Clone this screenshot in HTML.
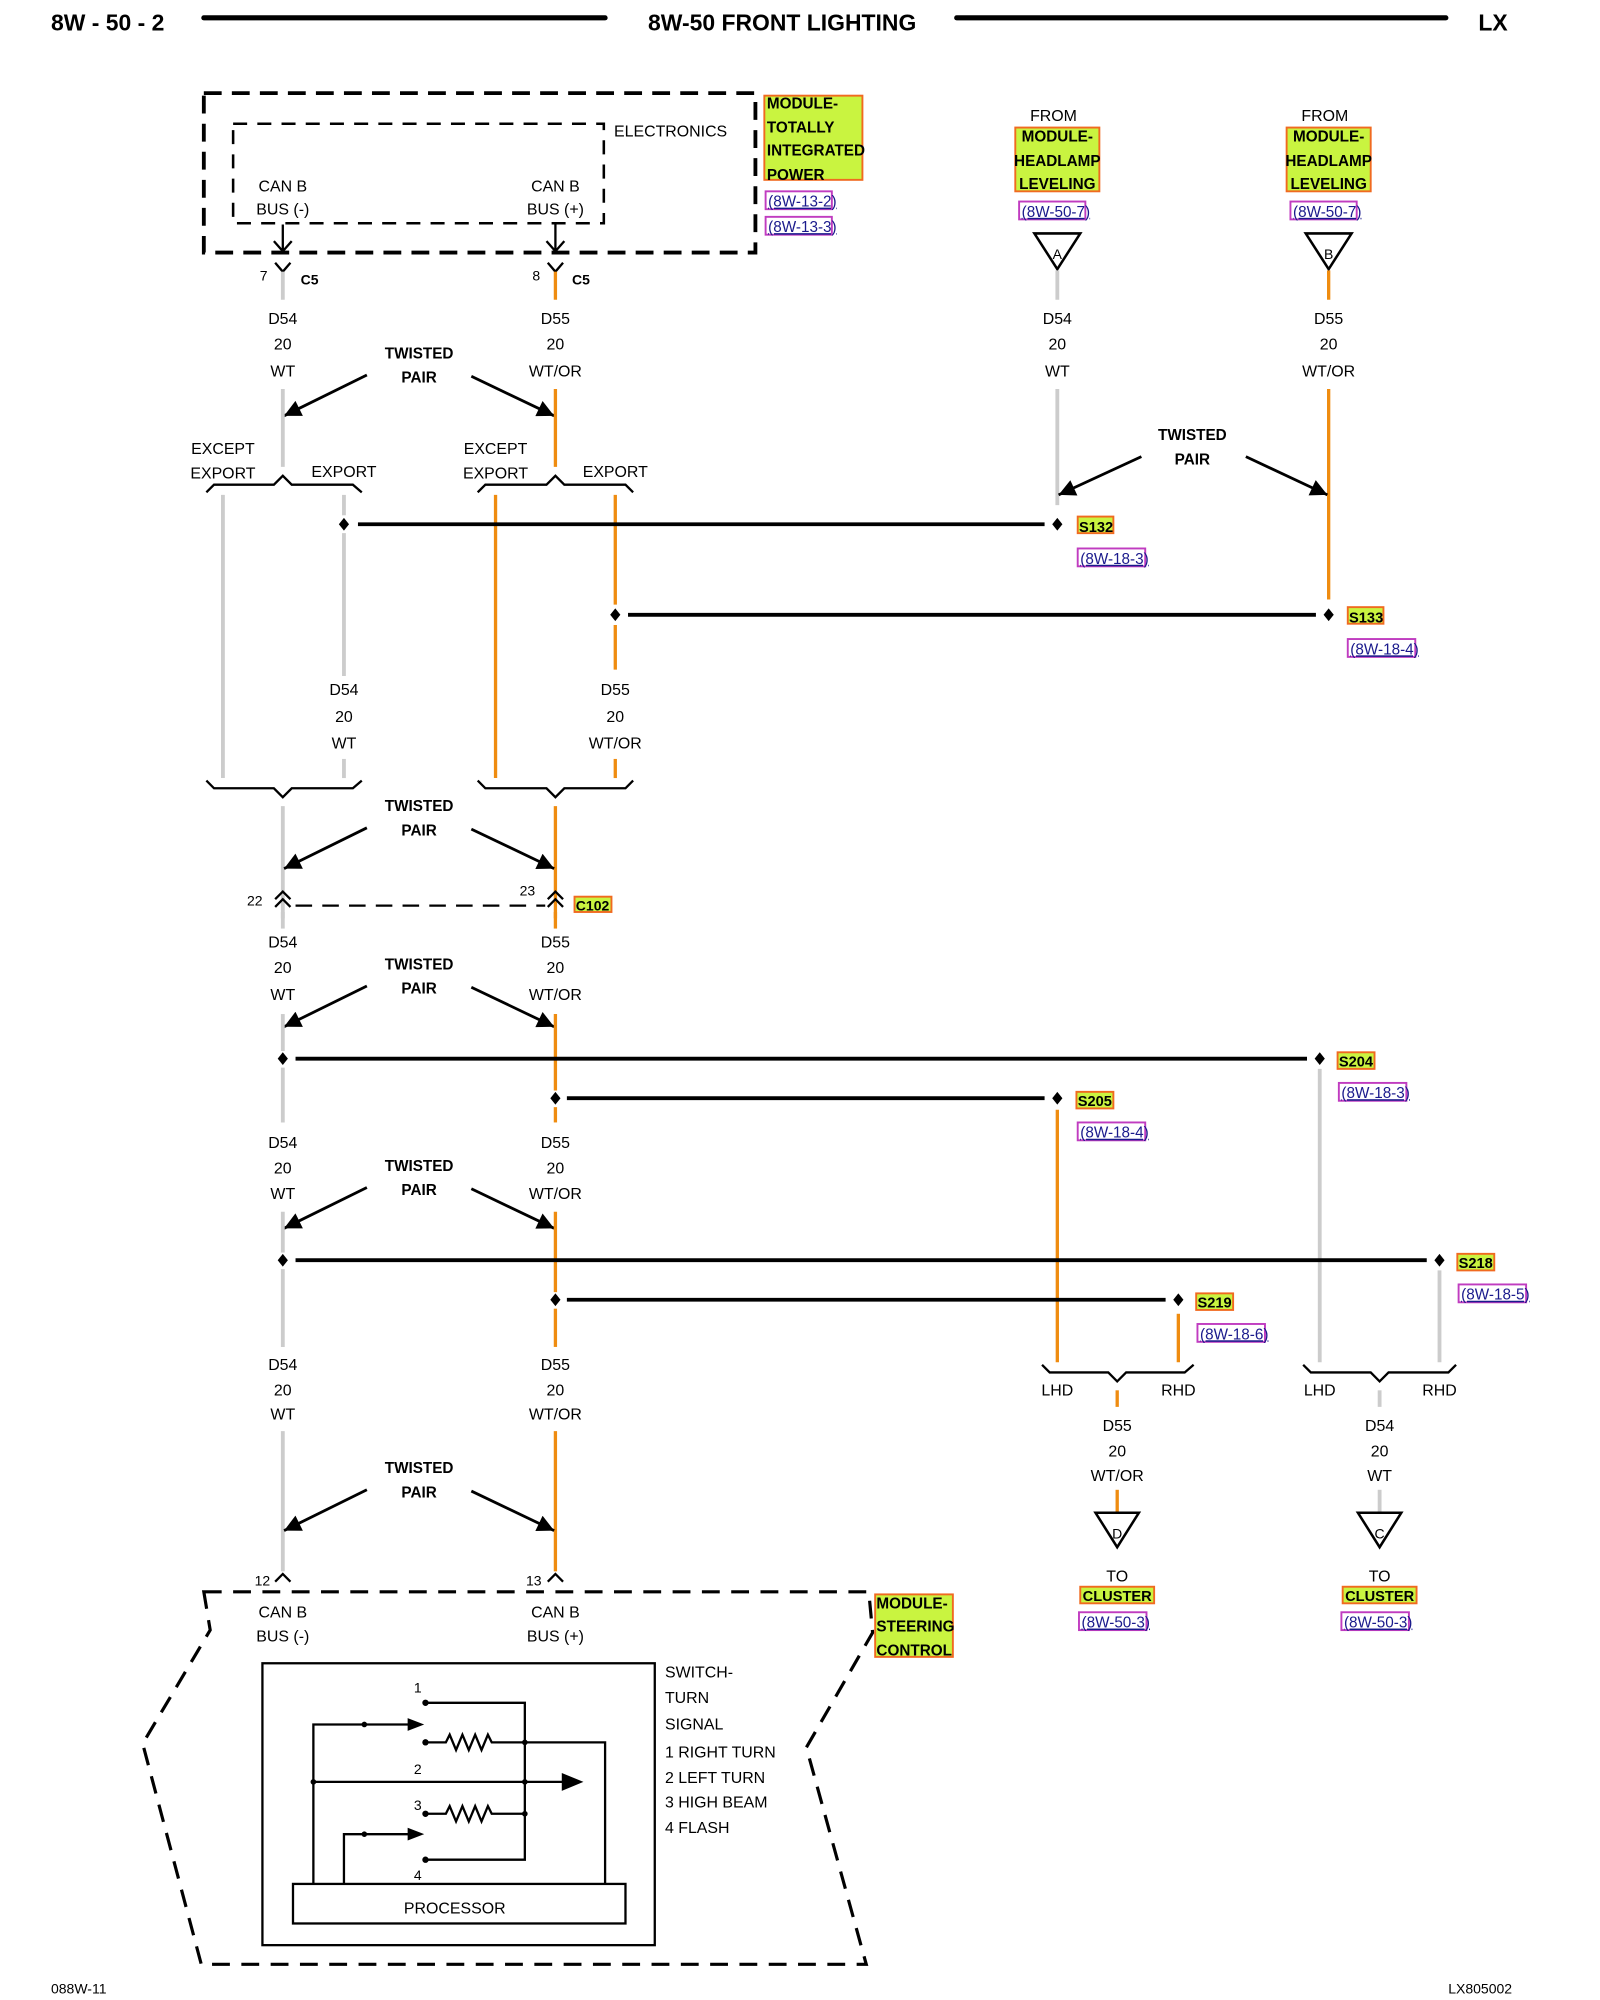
<!DOCTYPE html>
<html><head><meta charset="utf-8"><style>
html,body{margin:0;padding:0;background:#fff;}
svg{display:block;}
text{font-family:"Liberation Sans",Arial,sans-serif;font-size:12.5px;fill:#000;}
.m{text-anchor:middle;}
.b{font-weight:bold;}
.ref{fill:#1a1a8c;font-size:12px;text-decoration:underline;}
.g{stroke:#cccccc;stroke-width:3;fill:none;}
.o{stroke:#ef8c10;stroke-width:2.6;fill:none;}
.k{stroke:#000;stroke-width:3;fill:none;}
.k2{stroke:#000;stroke-width:1.8;fill:none;}
.lab{fill:#c9f440;stroke:#f06a20;stroke-width:1.5;}
.rb{fill:#fff;stroke:#c03cc0;stroke-width:1.5;}
</style></head><body>
<svg width="1600" height="2000" viewBox="0 0 1256 1568" preserveAspectRatio="none" xmlns="http://www.w3.org/2000/svg">
<defs>
<marker id="ah" viewBox="0 0 10 10" refX="10" refY="5" markerWidth="7" markerHeight="6" orient="auto"><path d="M0,0 L10,5 L0,10 z" fill="#000"/></marker>
</defs>

<!-- header -->
<text x="40" y="24" class="b" style="font-size:18px">8W - 50 - 2</text>
<line x1="160" y1="14" x2="475" y2="14" stroke="#000" stroke-width="4" stroke-linecap="round"/>
<text x="614" y="24" class="b m" style="font-size:18px">8W-50 FRONT LIGHTING</text>
<line x1="751" y1="14" x2="1135" y2="14" stroke="#000" stroke-width="4" stroke-linecap="round"/>
<text x="1172" y="24" class="b m" style="font-size:18px">LX</text>

<!-- TIPM module -->
<rect x="160" y="73" width="433" height="125" fill="none" stroke="#000" stroke-width="3" stroke-dasharray="14,8"/>
<rect x="183" y="97" width="291" height="78" fill="none" stroke="#000" stroke-width="2" stroke-dasharray="11,8"/>
<text x="482" y="107">ELECTRONICS</text>
<text x="222" y="150" class="m">CAN B</text><text x="222" y="168" class="m">BUS (-)</text>
<text x="436" y="150" class="m">CAN B</text><text x="436" y="168" class="m">BUS (+)</text>
<path d="M222,176 V197 M215,189 L222,197 L229,189 M436,176 V197 M429,189 L436,197 L443,189" class="k2"/>
<rect x="600" y="75" width="77" height="66" class="lab"/>
<text x="602" y="85" class="b" style="font-size:12px">MODULE-</text>
<text x="602" y="104" class="b" style="font-size:12px">TOTALLY</text>
<text x="602" y="122" class="b" style="font-size:12px">INTEGRATED</text>
<text x="602" y="141" class="b" style="font-size:12px">POWER</text>
<rect x="601" y="150" width="52" height="14" class="rb"/><text x="603" y="162" class="ref">(8W-13-2)</text>
<rect x="601" y="170" width="52" height="14" class="rb"/><text x="603" y="182" class="ref">(8W-13-3)</text>

<!-- C5 -->
<path d="M216,206 L222,213 L228,206 M430,206 L436,213 L442,206" class="k2"/>
<text x="207" y="220" class="m" style="font-size:11px">7</text><text x="236" y="223" class="b" style="font-size:11px">C5</text>
<text x="421" y="220" class="m" style="font-size:11px">8</text><text x="449" y="223" class="b" style="font-size:11px">C5</text>
<line x1="222" y1="213" x2="222" y2="235" class="g"/>
<line x1="436" y1="213" x2="436" y2="235" class="o"/>
<text x="222" y="254" class="m">D54</text><text x="222" y="274" class="m">20</text><text x="222" y="295" class="m">WT</text>
<text x="436" y="254" class="m">D55</text><text x="436" y="274" class="m">20</text><text x="436" y="295" class="m">WT/OR</text>

<g id="tp">
<text x="329" y="281" class="m b" style="font-size:12px">TWISTED</text>
<text x="329" y="300" class="m b" style="font-size:12px">PAIR</text>
<line x1="288" y1="294" x2="223" y2="326" stroke="#000" stroke-width="2.2" marker-end="url(#ah)"/>
<line x1="370" y1="295" x2="435" y2="326" stroke="#000" stroke-width="2.2" marker-end="url(#ah)"/>
</g>
<line x1="222" y1="305" x2="222" y2="366" class="g"/>
<line x1="436" y1="305" x2="436" y2="366" class="o"/>

<text x="175" y="356" class="m">EXCEPT</text><text x="175" y="375" class="m">EXPORT</text><text x="270" y="374" class="m">EXPORT</text>
<text x="389" y="356" class="m">EXCEPT</text><text x="389" y="375" class="m">EXPORT</text><text x="483" y="374" class="m">EXPORT</text>
<path d="M162,386 L168,380 H215 L222,373 L229,380 H277 L284,386" class="k2"/>
<path d="M375,386 L381,380 H429 L436,373 L443,380 H491 L497,386" class="k2"/>
<line x1="175" y1="388" x2="175" y2="610" class="g"/>
<line x1="270" y1="388" x2="270" y2="404" class="g"/>
<line x1="270" y1="418" x2="270" y2="530" class="g"/>
<line x1="270" y1="595" x2="270" y2="610" class="g"/>
<line x1="389" y1="388" x2="389" y2="610" class="o"/>
<line x1="483" y1="388" x2="483" y2="474" class="o"/>
<line x1="483" y1="490" x2="483" y2="525" class="o"/>
<line x1="483" y1="595" x2="483" y2="610" class="o"/>
<text x="270" y="545" class="m">D54</text><text x="270" y="566" class="m">20</text><text x="270" y="587" class="m">WT</text>
<text x="483" y="545" class="m">D55</text><text x="483" y="566" class="m">20</text><text x="483" y="587" class="m">WT/OR</text>

<line x1="281" y1="411" x2="820" y2="411" class="k"/>
<path d="M270,406 L274,411 L270,416 L266,411 Z M830,406 L834,411 L830,416 L826,411 Z" fill="#000"/>
<rect x="846" y="405" width="28" height="13" class="lab"/><text x="847" y="417" class="b" style="font-size:11.5px">S132</text>
<rect x="846" y="430" width="53" height="14" class="rb"/><text x="848" y="442" class="ref">(8W-18-3)</text>
<line x1="493" y1="482" x2="1033" y2="482" class="k"/>
<path d="M483,477 L487,482 L483,487 L479,482 Z M1043,477 L1047,482 L1043,487 L1039,482 Z" fill="#000"/>
<rect x="1058" y="476" width="28" height="13" class="lab"/><text x="1059" y="488" class="b" style="font-size:11.5px">S133</text>
<rect x="1058" y="501" width="53" height="14" class="rb"/><text x="1060" y="513" class="ref">(8W-18-4)</text>

<text x="827" y="95" class="m">FROM</text>
<rect x="797" y="100" width="66" height="50" class="lab"/>
<text x="830" y="111" class="m b" style="font-size:12px">MODULE-</text>
<text x="830" y="130" class="m b" style="font-size:12px">HEADLAMP</text>
<text x="830" y="148" class="m b" style="font-size:12px">LEVELING</text>
<rect x="800" y="158" width="52" height="14" class="rb"/><text x="802" y="170" class="ref">(8W-50-7)</text>
<path d="M812,183 H848 L830,211 Z" fill="#fff" stroke="#000" stroke-width="2"/><text x="830" y="203" class="m" style="font-size:11px">A</text>
<text x="1040" y="95" class="m">FROM</text>
<rect x="1010" y="100" width="66" height="50" class="lab"/>
<text x="1043" y="111" class="m b" style="font-size:12px">MODULE-</text>
<text x="1043" y="130" class="m b" style="font-size:12px">HEADLAMP</text>
<text x="1043" y="148" class="m b" style="font-size:12px">LEVELING</text>
<rect x="1013" y="158" width="52" height="14" class="rb"/><text x="1015" y="170" class="ref">(8W-50-7)</text>
<path d="M1025,183 H1061 L1043,211 Z" fill="#fff" stroke="#000" stroke-width="2"/><text x="1043" y="203" class="m" style="font-size:11px">B</text>
<line x1="830" y1="212" x2="830" y2="235" class="g"/>
<line x1="1043" y1="212" x2="1043" y2="235" class="o"/>
<text x="830" y="254" class="m">D54</text><text x="830" y="274" class="m">20</text><text x="830" y="295" class="m">WT</text>
<text x="1043" y="254" class="m">D55</text><text x="1043" y="274" class="m">20</text><text x="1043" y="295" class="m">WT/OR</text>
<line x1="830" y1="305" x2="830" y2="396" class="g"/>
<line x1="1043" y1="305" x2="1043" y2="470" class="o"/>
<text x="936" y="345" class="m b" style="font-size:12px">TWISTED</text>
<text x="936" y="364" class="m b" style="font-size:12px">PAIR</text>
<line x1="896" y1="358" x2="831" y2="388" stroke="#000" stroke-width="2.2" marker-end="url(#ah)"/>
<line x1="978" y1="358" x2="1042" y2="388" stroke="#000" stroke-width="2.2" marker-end="url(#ah)"/>

<path d="M162,612 L168,618 H215 L222,625 L229,618 H277 L284,612" class="k2"/>
<path d="M375,612 L381,618 H429 L436,625 L443,618 H491 L497,612" class="k2"/>
<line x1="222" y1="632" x2="222" y2="720" class="g"/>
<line x1="436" y1="632" x2="436" y2="720" class="o"/>
<use href="#tp" transform="translate(0,355)"/>

<path d="M216,705 L222,699 L228,705 M216,711 L222,705 L228,711 M430,705 L436,699 L442,705 M430,711 L436,705 L442,711" class="k2"/>
<line x1="232" y1="710" x2="428" y2="710" stroke="#000" stroke-width="1.8" stroke-dasharray="13,8"/>
<text x="200" y="710" class="m" style="font-size:11px">22</text>
<text x="414" y="702" class="m" style="font-size:11px">23</text>
<rect x="451" y="703" width="29" height="12" class="lab"/><text x="452" y="714" class="b" style="font-size:11px">C102</text>
<line x1="222" y1="715" x2="222" y2="728" class="g"/>
<line x1="436" y1="715" x2="436" y2="728" class="o"/>
<text x="222" y="743" class="m">D54</text><text x="222" y="763" class="m">20</text><text x="222" y="784" class="m">WT</text>
<text x="436" y="743" class="m">D55</text><text x="436" y="763" class="m">20</text><text x="436" y="784" class="m">WT/OR</text>
<use href="#tp" transform="translate(0,479)"/>
<line x1="222" y1="795" x2="222" y2="824" class="g"/>
<line x1="222" y1="837" x2="222" y2="880" class="g"/>
<line x1="436" y1="795" x2="436" y2="855" class="o"/>
<line x1="436" y1="868" x2="436" y2="880" class="o"/>

<line x1="232" y1="830" x2="1026" y2="830" class="k"/>
<path d="M222,825 L226,830 L222,835 L218,830 Z M1036,825 L1040,830 L1036,835 L1032,830 Z" fill="#000"/>
<rect x="1050" y="825" width="29" height="13" class="lab"/><text x="1051" y="836" class="b" style="font-size:11.5px">S204</text>
<rect x="1051" y="849" width="53" height="14" class="rb"/><text x="1053" y="861" class="ref">(8W-18-3)</text>
<line x1="1036" y1="838" x2="1036" y2="1068" class="g"/>
<line x1="445" y1="861" x2="820" y2="861" class="k"/>
<path d="M436,856 L440,861 L436,866 L432,861 Z M830,856 L834,861 L830,866 L826,861 Z" fill="#000"/>
<rect x="845" y="856" width="29" height="13" class="lab"/><text x="846" y="867" class="b" style="font-size:11.5px">S205</text>
<rect x="846" y="880" width="53" height="14" class="rb"/><text x="848" y="892" class="ref">(8W-18-4)</text>
<line x1="830" y1="870" x2="830" y2="1068" class="o"/>

<text x="222" y="900" class="m">D54</text><text x="222" y="920" class="m">20</text><text x="222" y="940" class="m">WT</text>
<text x="436" y="900" class="m">D55</text><text x="436" y="920" class="m">20</text><text x="436" y="940" class="m">WT/OR</text>
<use href="#tp" transform="translate(0,637)"/>
<line x1="222" y1="950" x2="222" y2="982" class="g"/>
<line x1="222" y1="995" x2="222" y2="1056" class="g"/>
<line x1="436" y1="950" x2="436" y2="1013" class="o"/>
<line x1="436" y1="1026" x2="436" y2="1056" class="o"/>

<line x1="232" y1="988" x2="1120" y2="988" class="k"/>
<path d="M222,983 L226,988 L222,993 L218,988 Z M1130,983 L1134,988 L1130,993 L1126,988 Z" fill="#000"/>
<rect x="1144" y="983" width="29" height="13" class="lab"/><text x="1145" y="994" class="b" style="font-size:11.5px">S218</text>
<rect x="1145" y="1007" width="53" height="14" class="rb"/><text x="1147" y="1019" class="ref">(8W-18-5)</text>
<line x1="1130" y1="996" x2="1130" y2="1068" class="g"/>
<line x1="445" y1="1019" x2="915" y2="1019" class="k"/>
<path d="M436,1014 L440,1019 L436,1024 L432,1019 Z M925,1014 L929,1019 L925,1024 L921,1019 Z" fill="#000"/>
<rect x="939" y="1014" width="29" height="13" class="lab"/><text x="940" y="1025" class="b" style="font-size:11.5px">S219</text>
<rect x="940" y="1038" width="53" height="14" class="rb"/><text x="942" y="1050" class="ref">(8W-18-6)</text>
<line x1="925" y1="1030" x2="925" y2="1068" class="o"/>

<path d="M818,1070 L824,1076 H870 L877,1083 L884,1076 H930 L937,1070" class="k2"/>
<path d="M1023,1070 L1029,1076 H1076 L1083,1083 L1090,1076 H1137 L1143,1070" class="k2"/>
<text x="830" y="1094" class="m">LHD</text><text x="925" y="1094" class="m">RHD</text>
<text x="1036" y="1094" class="m">LHD</text><text x="1130" y="1094" class="m">RHD</text>
<line x1="877" y1="1090" x2="877" y2="1103" class="o"/>
<line x1="1083" y1="1090" x2="1083" y2="1103" class="g"/>
<text x="877" y="1122" class="m">D55</text><text x="877" y="1142" class="m">20</text><text x="877" y="1161" class="m">WT/OR</text>
<text x="1083" y="1122" class="m">D54</text><text x="1083" y="1142" class="m">20</text><text x="1083" y="1161" class="m">WT</text>
<line x1="877" y1="1168" x2="877" y2="1186" class="o"/>
<line x1="1083" y1="1168" x2="1083" y2="1186" class="g"/>
<path d="M860,1186 H894 L877,1213 Z" fill="#fff" stroke="#000" stroke-width="2"/><text x="877" y="1206" class="m" style="font-size:11px">D</text>
<path d="M1066,1186 H1100 L1083,1213 Z" fill="#fff" stroke="#000" stroke-width="2"/><text x="1083" y="1206" class="m" style="font-size:11px">C</text>
<text x="877" y="1240" class="m">TO</text><text x="1083" y="1240" class="m">TO</text>
<rect x="848" y="1244" width="58" height="13" class="lab"/><text x="877" y="1255" class="m b" style="font-size:11.5px">CLUSTER</text>
<rect x="1054" y="1244" width="58" height="13" class="lab"/><text x="1083" y="1255" class="m b" style="font-size:11.5px">CLUSTER</text>
<rect x="847" y="1264" width="53" height="14" class="rb"/><text x="849" y="1276" class="ref">(8W-50-3)</text>
<rect x="1053" y="1264" width="53" height="14" class="rb"/><text x="1055" y="1276" class="ref">(8W-50-3)</text>

<text x="222" y="1074" class="m">D54</text><text x="222" y="1094" class="m">20</text><text x="222" y="1113" class="m">WT</text>
<text x="436" y="1074" class="m">D55</text><text x="436" y="1094" class="m">20</text><text x="436" y="1113" class="m">WT/OR</text>
<line x1="222" y1="1122" x2="222" y2="1232" class="g"/>
<line x1="436" y1="1122" x2="436" y2="1232" class="o"/>
<use href="#tp" transform="translate(0,874)"/>
<path d="M216,1240 L222,1234 L228,1240 M430,1240 L436,1234 L442,1240" class="k2"/>
<text x="206" y="1243" class="m" style="font-size:11px">12</text>
<text x="419" y="1243" class="m" style="font-size:11px">13</text>

<path d="M160,1248 H682 L685,1280 L633,1370 L680,1540 H158 L112,1367 L165,1278 Z" fill="none" stroke="#000" stroke-width="2.5" stroke-dasharray="14,9"/>
<text x="222" y="1268" class="m">CAN B</text><text x="222" y="1287" class="m">BUS (-)</text>
<text x="436" y="1268" class="m">CAN B</text><text x="436" y="1287" class="m">BUS (+)</text>
<rect x="687" y="1250" width="61" height="49" class="lab"/>
<text x="688" y="1261" class="b" style="font-size:12px">MODULE-</text>
<text x="688" y="1279" class="b" style="font-size:12px">STEERING</text>
<text x="688" y="1298" class="b" style="font-size:12px">CONTROL</text>

<rect x="206" y="1304" width="308" height="221" fill="none" stroke="#000" stroke-width="1.8"/>
<rect x="230" y="1477" width="261" height="31" fill="none" stroke="#000" stroke-width="1.8"/>
<text x="357" y="1500" class="m">PROCESSOR</text>
<text x="522" y="1315">SWITCH-</text><text x="522" y="1335">TURN</text><text x="522" y="1356">SIGNAL</text>
<text x="522" y="1378">1 RIGHT TURN</text><text x="522" y="1398">2 LEFT TURN</text>
<text x="522" y="1417">3 HIGH BEAM</text><text x="522" y="1437">4 FLASH</text>
<text x="328" y="1327" class="m" style="font-size:11px">1</text>
<text x="328" y="1391" class="m" style="font-size:11px">2</text>
<text x="328" y="1419" class="m" style="font-size:11px">3</text>
<text x="328" y="1474" class="m" style="font-size:11px">4</text>
<g stroke="#000" stroke-width="1.8" fill="none">
<path d="M334,1335 H412 V1458 H334"/>
<path d="M334,1366 H350 l3,-6 l5,12 l5,-12 l5,12 l5,-12 l5,12 l5,-12 l3,6 H475 V1477"/>
<path d="M334,1422 H350 l3,-6 l5,12 l5,-12 l5,12 l5,-12 l5,12 l5,-12 l3,6 H412"/>
<path d="M246,1477 V1352 H322"/>
<path d="M270,1477 V1438 H322"/>
<path d="M246,1397 H443"/>
</g>
<path d="M320,1347 L333,1352 L320,1357 Z M320,1433 L333,1438 L320,1443 Z M441,1390 L458,1397 L441,1404 Z" fill="#000"/>
<g fill="#000">
<circle cx="334" cy="1335" r="2.5"/><circle cx="334" cy="1366" r="2.5"/><circle cx="334" cy="1422" r="2.5"/><circle cx="334" cy="1458" r="2.5"/>
<circle cx="286" cy="1352" r="2.2"/><circle cx="286" cy="1438" r="2.2"/>
<circle cx="412" cy="1366" r="2.2"/><circle cx="412" cy="1397" r="2.2"/><circle cx="412" cy="1422" r="2.2"/><circle cx="246" cy="1397" r="2.2"/>
</g>

<text x="40" y="1563" style="font-size:11px">088W-11</text>
<text x="1187" y="1563" style="font-size:11px;text-anchor:end">LX805002</text>
</svg>
</body></html>
